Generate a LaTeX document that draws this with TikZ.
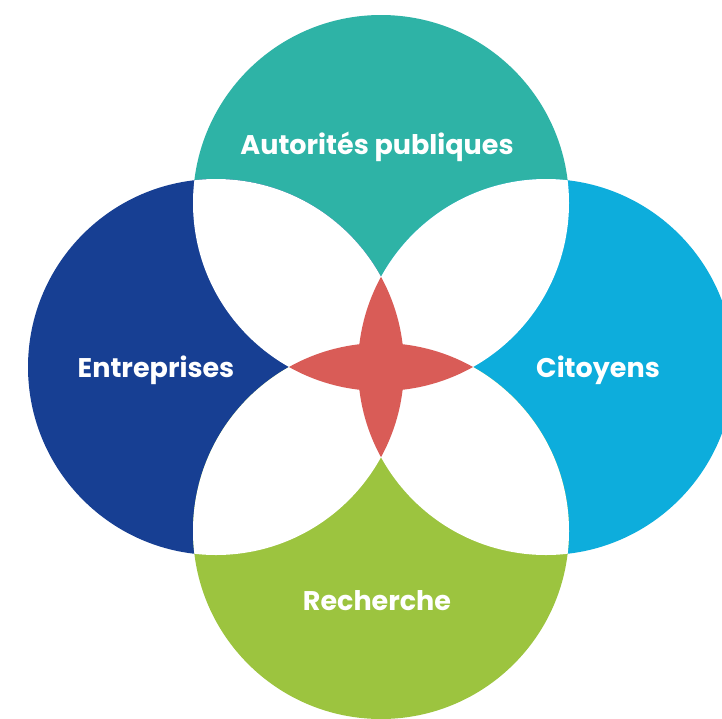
\documentclass[tikz,border=0pt]{standalone}
\usepackage{fontspec}
\setmainfont{Poppins}
\usepackage{xcolor}
\definecolor{autorites}{HTML}{2EB3A6}
\definecolor{entreprises}{HTML}{173F93}
\definecolor{citoyens}{HTML}{0DADDC}
\definecolor{recherche}{HTML}{9CC43F}
\definecolor{centre}{HTML}{D95C57}

\begin{document}
\begin{tikzpicture}[x=1pt, y=-1pt]
	\clip (0,0) rectangle (722,718);
	\fill[white] (0,0) rectangle (722,718);
	% Define the circle centres
	\coordinate (T) at (381,203);
	\coordinate (L) at (216,367);
	\coordinate (R) at (546,367);
	\coordinate (B) at (381,531);

	% Draw the four circles
	\fill[autorites] (T) circle (188pt);
	\fill[entreprises] (L) circle (188pt);
	\fill[citoyens] (R) circle (188pt);
	\fill[recherche] (B) circle (188pt);

	% White overlaps between neighbours
	\begin{scope}
		\clip (T) circle (188pt);
		\fill[white] (L) circle (188pt);
		\fill[white] (R) circle (188pt);
	\end{scope}
	\begin{scope}
		\clip (B) circle (188pt);
		\fill[white] (L) circle (188pt);
		\fill[white] (R) circle (188pt);
	\end{scope}

	% Red overlaps between opposite circles
	\begin{scope}
		\clip (L) circle (188pt);
		\fill[centre] (R) circle (188pt);
	\end{scope}
	\begin{scope}
		\clip (T) circle (188pt);
		\fill[centre] (B) circle (188pt);
	\end{scope}

	% Labels
	\node[text=white, font=\bfseries\fontsize{27}{32}\selectfont] (autorites) at (377,147) {Autorités publiques};
	\node[text=white, font=\bfseries\fontsize{27}{32}\selectfont] (entreprises) at (156,370) {Entreprises};
	\node[text=white, font=\bfseries\fontsize{27}{32}\selectfont] (citoyens) at (598,370) {Citoyens};
	\node[text=white, font=\bfseries\fontsize{27}{32}\selectfont] (recherche) at (377,601) {Recherche};
\end{tikzpicture}
\end{document}
